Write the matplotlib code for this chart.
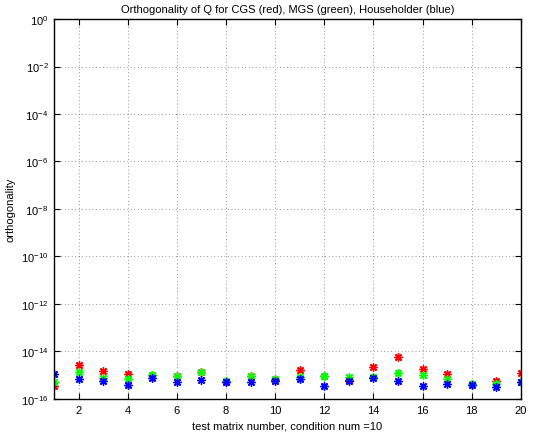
import numpy as np
import matplotlib
matplotlib.use('Agg')
import matplotlib.pyplot as plt

plt.rcParams['font.family'] = ['Liberation Sans', 'DejaVu Sans']

matrix_num = list(range(1, 21))
# log10 of orthogonality error
cgs_log = [-15.44, -14.55, -14.83, -14.96, -14.98, -15.02, -14.88, -15.30, -15.02, -15.18,
           -14.77, -15.02, -15.20, -14.66, -14.23, -14.73, -14.95, -15.35, -15.24, -14.89]
mgs_log = [-15.29, -14.88, -15.13, -15.16, -15.00, -15.02, -14.88, -15.26, -15.02, -15.16,
           -15.07, -15.02, -15.06, -15.06, -14.92, -15.00, -15.16, -15.35, -15.36, -15.27]
hh_log = [-14.93, -15.16, -15.23, -15.40, -15.12, -15.29, -15.20, -15.27, -15.29, -15.26,
          -15.17, -15.44, -15.23, -15.12, -15.26, -15.44, -15.39, -15.43, -15.50, -15.30]

cgs = 10.0 ** np.array(cgs_log)
mgs = 10.0 ** np.array(mgs_log)
hh = 10.0 ** np.array(hh_log)

fig = plt.figure(figsize=(5.37, 4.35), dpi=100)
ax = fig.add_axes([0.1006, 0.0805, 0.8694, 0.8735])

star = (8, 2, 0)  # matlab-like asterisk
for vals, col in [(cgs, '#ff0000'), (mgs, '#00ff00'), (hh, '#0000ff')]:
    ax.semilogy(matrix_num, vals, linestyle='none', marker=star, color=col,
                markersize=6, markeredgewidth=1.0)

ax.set_xlim(1, 20)
ax.set_ylim(1e-16, 1)
ax.set_xticks(range(2, 21, 2))
ax.set_yticks([10.0 ** k for k in range(-16, 1, 2)])
ax.minorticks_off()
ax.tick_params(direction='in', labelsize=8, top=True, right=True, length=4, width=0.8, pad=4)
ax.grid(True, which='major', linestyle=(0, (1, 4)), color='#333333', linewidth=0.5)
for s in ax.spines.values():
    s.set_linewidth(1.0)

ax.set_title('Orthogonality of Q for CGS (red), MGS (green), Householder (blue)', fontsize=8, pad=5)
ax.set_xlabel('test matrix number, condition num =10', fontsize=8)
ax.set_ylabel('orthogonality', fontsize=8)

fig.savefig('out.png', dpi=100)
